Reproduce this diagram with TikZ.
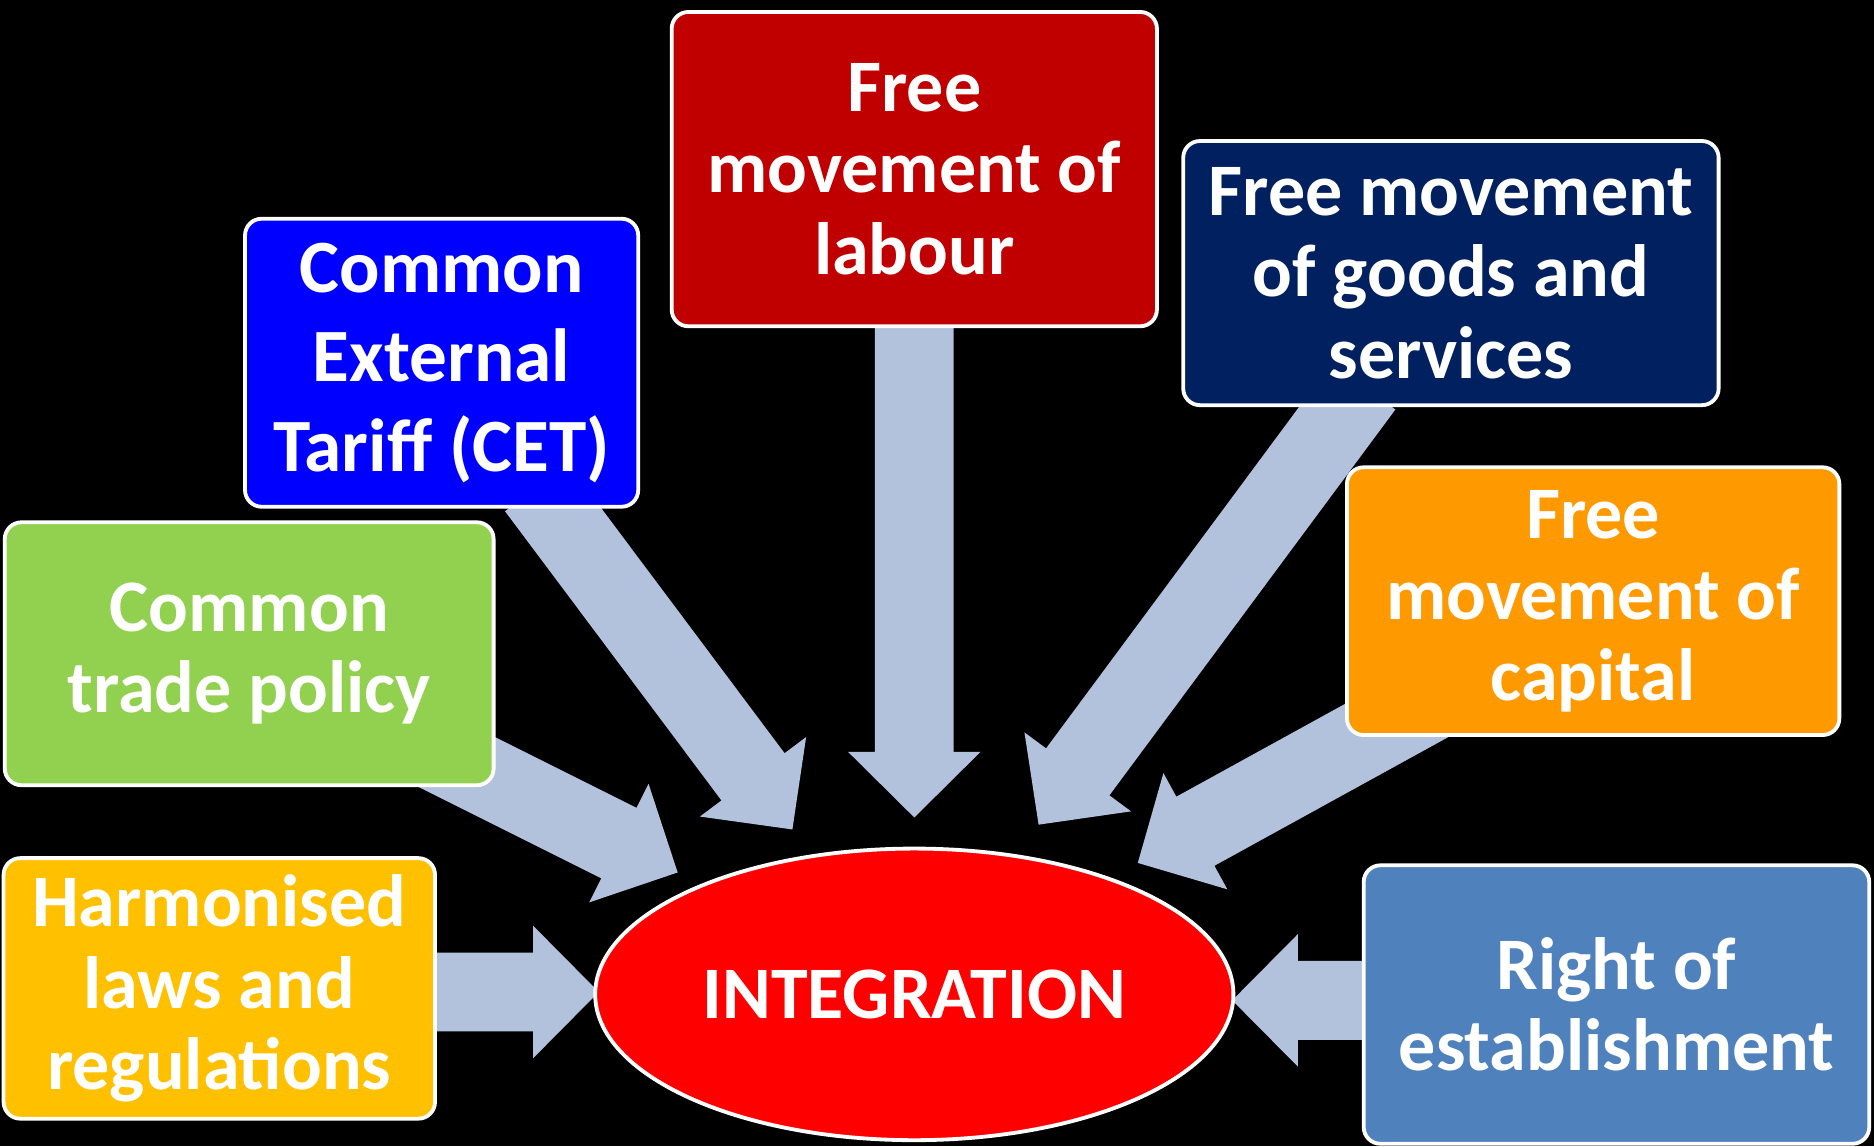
\documentclass[tikz,border=0pt]{standalone}
\usepackage{fontspec}
\setmainfont{Carlito}
\usetikzlibrary{calc,shapes.geometric}
\definecolor{arrowc}{RGB}{178,193,220}
\definecolor{clabour}{HTML}{C00000}
\definecolor{cgoods}{HTML}{002060}
\definecolor{ccet}{HTML}{0000FF}
\definecolor{ccapital}{HTML}{FF9900}
\definecolor{ctrade}{HTML}{92D050}
\definecolor{charm}{HTML}{FFC000}
\definecolor{cright}{HTML}{4F81BD}
\definecolor{cinteg}{HTML}{FF0000}
\newcommand\blockarrow[3]{% name, start, end
  \coordinate (#1h) at ($(#3)!27.5pt!(#2)$);
  \fill[arrowc] ($(#2)!16.5pt!90:(#3)$) -- ($(#1h)!16.5pt!90:(#3)$) -- ($(#1h)!27.75pt!90:(#3)$) -- (#3)
    -- ($(#1h)!27.75pt!-90:(#3)$) -- ($(#1h)!16.5pt!-90:(#3)$) -- ($(#2)!16.5pt!-90:(#3)$) -- cycle;
}
\begin{document}
\begin{tikzpicture}[x=0.5pt,y=-0.5pt,
  box/.style={draw=white, line width=1.6pt, rounded corners=7pt, text=white, align=center,
    font=\bfseries\fontsize{31}{34}\selectfont, inner sep=0pt},
  integ/.style={ellipse, draw=white, line width=1.6pt, fill=cinteg, text=white,
    font=\bfseries\fontsize{31}{36}\selectfont, inner sep=0pt}]
\fill[black] (0,0) rectangle (1568,959);
\useasboundingbox (0,0) rectangle (1568,959);
% arrow endpoints
\coordinate (sLab) at (765,255);   \coordinate (eLab) at (765,684);
\coordinate (sGoo) at (1141,323);  \coordinate (eGoo) at (869,690);
\coordinate (sCet) at (449,408);   \coordinate (eCet) at (663,694);
\coordinate (sTra) at (343,618);   \coordinate (eTra) at (567,730);
\coordinate (sCap) at (1241,563);  \coordinate (eCap) at (952,722);
\coordinate (sHar) at (340,830);   \coordinate (eHar) at (501,830);
\coordinate (sRig) at (1160,837);  \coordinate (eRig) at (1031,837);
\blockarrow{aLab}{sLab}{eLab}
\blockarrow{aGoo}{sGoo}{eGoo}
\blockarrow{aCet}{sCet}{eCet}
\blockarrow{aTra}{sTra}{eTra}
\blockarrow{aCap}{sCap}{eCap}
\blockarrow{aHar}{sHar}{eHar}
\blockarrow{aRig}{sRig}{eRig}
% boxes
\node[box, fill=clabour, minimum width=203pt, minimum height=131.5pt] (labour) at (765,141.5)
  {Free\\movement of\\labour};
\node[box, fill=cgoods, minimum width=224pt, minimum height=110.5pt] (goods) at (1214,228.5)
  {Free movement\\of goods and\\services};
\node[box, fill=ccet, minimum width=164.5pt, minimum height=120.5pt,
  font=\bfseries\fontsize{31.5}{37.5}\selectfont] (cet) at (369.5,303.5)
  {Common\\External\\Tariff (CET)};
\node[box, fill=ccapital, minimum width=206pt, minimum height=112pt] (capital) at (1333,503)
  {Free\\movement of\\capital};
\node[box, fill=ctrade, minimum width=204.5pt, minimum height=110pt] (trade) at (208.5,547)
  {Common\\trade policy};
\node[box, fill=charm, minimum width=180.5pt, minimum height=109pt] (harm) at (183.5,827)
  {Harmonised\\laws and\\regulations};
\node[box, fill=cright, minimum width=211.5pt, minimum height=116.5pt] (right) at (1352.5,840.5)
  {Right of\\establishment};
\node[integ, minimum width=267pt, minimum height=122pt] (integ) at (765,832) {INTEGRATION};
\end{tikzpicture}
\end{document}
